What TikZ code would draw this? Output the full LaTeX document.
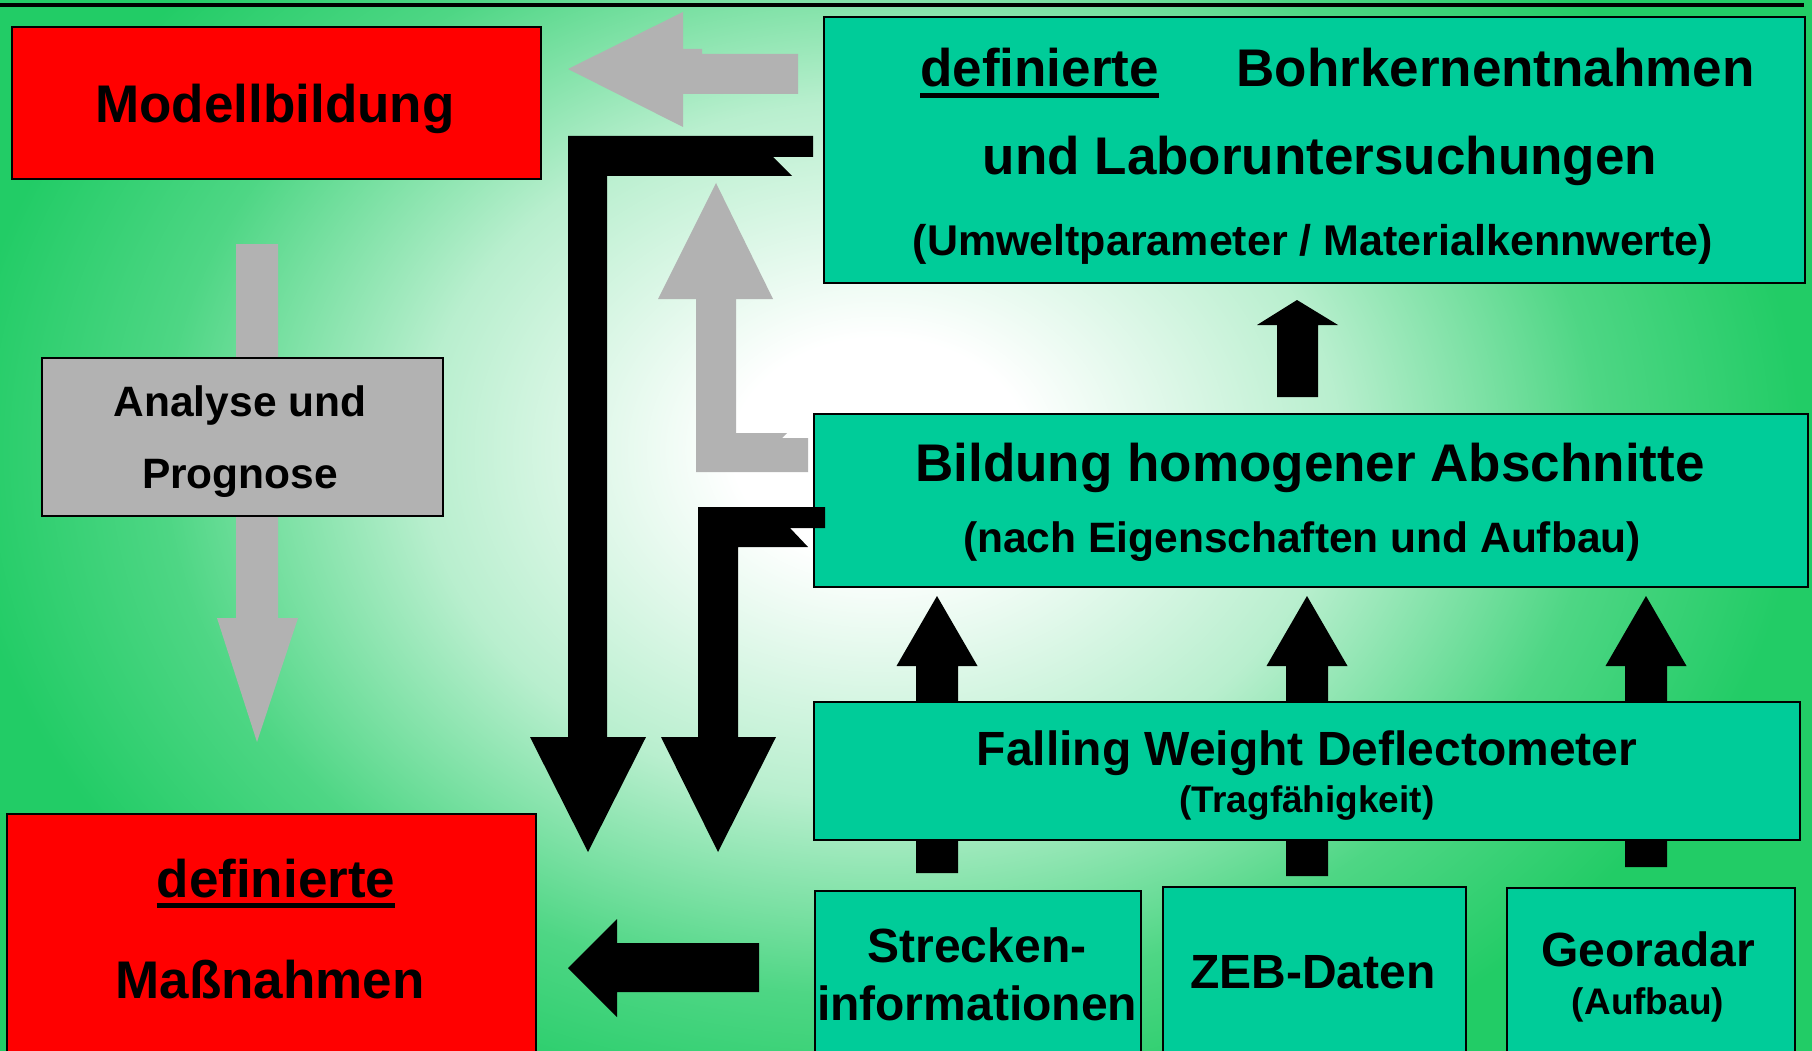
\documentclass[tikz,border=0pt]{standalone}
\usepackage{fontspec}
\setmainfont{Liberation Sans}
\usetikzlibrary{positioning}
\definecolor{bggreen}{HTML}{22CC66}
\definecolor{boxteal}{HTML}{00CC99}
\definecolor{boxred}{HTML}{FF0000}
\definecolor{arrowgrey}{HTML}{B2B2B2}
\pgfdeclareradialshading{bgglow}{\pgfpoint{0bp}{0bp}}{%
  color(0bp)=(white); color(4bp)=(white);
  color(12.5bp)=(bggreen!32!white); color(19.5bp)=(bggreen!80!white);
  color(25bp)=(bggreen); color(50bp)=(bggreen)}
\newcommand{\ulword}[1]{\setbox0\hbox{#1}\rlap{\rule[-11pt]{\wd0}{5pt}}\box0}
\tikzset{
  tealbox/.style={draw=black, line width=2pt, fill=boxteal, inner sep=0pt, anchor=north west},
  redbox/.style={tealbox, fill=boxred},
  greybox/.style={tealbox, fill=arrowgrey},
  blackbar/.style={fill=black},
  greybar/.style={fill=arrowgrey},
  bigtxt/.style={font=\fontsize{53}{60}\selectfont\bfseries, inner sep=0pt, anchor=base},
  midtxt/.style={bigtxt, font=\fontsize{48}{56}\selectfont\bfseries},
  subtxt/.style={bigtxt, font=\fontsize{42.5}{50}\selectfont\bfseries},
  smalltxt/.style={bigtxt, font=\fontsize{37}{44}\selectfont\bfseries},
}

\begin{document}
\begin{tikzpicture}[x=1pt, y=-1pt]
  \useasboundingbox (0,0) rectangle (1812,1051);
  \clip (0,0) rectangle (1812,1051);

  % background
  \fill[bggreen] (0,0) rectangle (1812,1051);
  \shade[shading=bgglow] (880,450) ellipse [x radius=920, y radius=700];
  \draw[line width=3.5pt] (0,5) -- (1804,5);

  % arrows lying under the boxes
  \fill[greybar] (236,244) -- (278,244) -- (278,618) -- (298,618) -- (257,742)
    -- (217,618) -- (236,618) -- cycle;
  \foreach \cx/\yb in {937/873, 1307/876, 1646/867}
    \fill[blackbar] (\cx-21,\yb) -- (\cx-21,666) -- (\cx-40.5,666) -- (\cx,596)
      -- (\cx+40.5,666) -- (\cx+21,666) -- (\cx+21,\yb) -- cycle;

  % boxes
  \node[redbox, minimum width=529pt, minimum height=152pt] (modell) at (11,26) {};
  \node[tealbox, minimum width=981pt, minimum height=266pt] (bohr) at (823,16) {};
  \node[tealbox, minimum width=994pt, minimum height=173pt] (bildung) at (813,413) {};
  \node[tealbox, minimum width=986pt, minimum height=138pt] (fwd) at (813,701) {};
  \node[greybox, minimum width=401pt, minimum height=158pt] (analyse) at (41,357) {};
  \node[redbox, minimum width=529pt, minimum height=252pt] (massn) at (6,813) {};
  \node[tealbox, minimum width=326pt, minimum height=175pt] (strecken) at (814,890) {};
  \node[tealbox, minimum width=303pt, minimum height=179pt] (zeb) at (1162,886) {};
  \node[tealbox, minimum width=288pt, minimum height=178pt] (geo) at (1506,887) {};

  % texts
  \node[bigtxt] (modellT) at (275,123) {Modellbildung};
  \node[bigtxt, anchor=base west] (bohrA) at (920,87) {\ulword{definierte}};
  \node[bigtxt, anchor=base east] (bohrB) at (1755,87) {Bohrkernentnahmen};
  \node[bigtxt] (bohrC) at (1320,175) {und Laboruntersuchungen};
  \node[subtxt, font=\fontsize{43}{50}\selectfont\bfseries] (bohrD) at (1313,255)
    {(Umweltparameter / Materialkennwerte)};
  \node[bigtxt] (bildungA) at (1310,481) {Bildung homogener Abschnitte};
  \node[subtxt] (bildungB) at (1302,552) {(nach Eigenschaften und Aufbau)};
  \node[midtxt] (fwdA) at (1307,765) {Falling Weight Deflectometer};
  \node[smalltxt] (fwdB) at (1307,812) {(Tragfähigkeit)};
  \node[midtxt] (streckenA) at (977,962) {Strecken-};
  \node[midtxt] (streckenB) at (977,1020) {informationen};
  \node[midtxt] (zebT) at (1313,988) {ZEB-Daten};
  \node[midtxt] (geoA) at (1648,966) {Georadar};
  \node[smalltxt] (geoB) at (1648,1014) {(Aufbau)};
  \node[bigtxt] (massnA) at (276,897) {\ulword{definierte}};
  \node[bigtxt] (massnB) at (270,998) {Maßnahmen};
  \node[subtxt] (analyseA) at (240,416) {Analyse und};
  \node[subtxt] (analyseB) at (240,488) {Prognose};

  % arrows over the background
  \fill[greybar] (568,69) -- (683,12) -- (683,49) -- (702,49) -- (702,54) -- (798,54)
    -- (798,94) -- (683,94) -- (683,127) -- cycle;
  \fill[greybar] (716,183) -- (773,299) -- (736,299) -- (736,433) -- (787,433)
    -- (782,438) -- (808,438) -- (808,472) -- (696,472) -- (696,299) -- (658,299) -- cycle;
  \fill[blackbar] (813,136) -- (568,136) -- (568,737) -- (530,737) -- (588,852)
    -- (646,737) -- (607,737) -- (607,176) -- (792,176) -- (773,157) -- (813,157) -- cycle;
  \fill[blackbar] (825,507) -- (698,507) -- (698,737) -- (661,737) -- (718,852)
    -- (776,737) -- (738,737) -- (738,547) -- (808,547) -- (790,528) -- (825,528) -- cycle;
  \fill[blackbar] (1297,300) -- (1338,325) -- (1318,325) -- (1318,397) -- (1277,397)
    -- (1277,325) -- (1257,325) -- cycle;
  \fill[blackbar] (568,968) -- (617,919) -- (617,943) -- (759,943) -- (759,992)
    -- (617,992) -- (617,1017) -- cycle;
\end{tikzpicture}
\end{document}
